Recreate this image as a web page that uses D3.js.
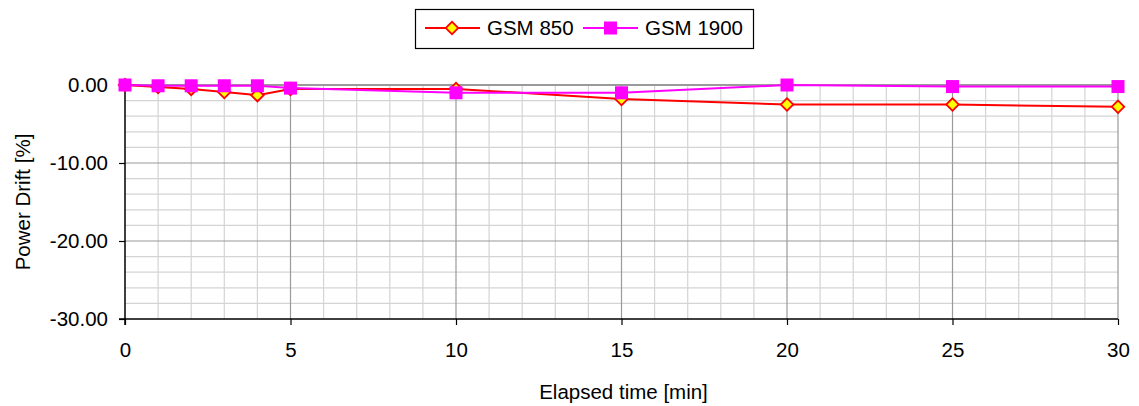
<!DOCTYPE html>
<html><head><meta charset="utf-8">
<script src="https://cdn.jsdelivr.net/npm/d3@7"></script>
<style>body{margin:0;background:#fff;} svg{display:block;font-family:"Liberation Sans",Arial,sans-serif;}</style>
</head><body>
<svg id="c" width="1139" height="406"></svg>
<script>
const times = [0, 1, 2, 3, 4, 5, 10, 15, 20, 25, 30];
const gsm850 = [0, -0.25, -0.5, -0.9, -1.3, -0.5, -0.5, -1.8, -2.5, -2.5, -2.8];
const gsm1900 = [0, -0.1, -0.1, -0.1, -0.1, -0.4, -1.0, -1.0, 0.0, -0.2, -0.2];
const xTicks = [0, 5, 10, 15, 20, 25, 30];
const yTicks = [0, -10, -20, -30];
const seriesNames = ["GSM 850", "GSM 1900"];

const FS = "20.5px";
const svg = d3.select("#c");
const x = d3.scaleLinear().domain([0, 30]).range([125, 1118]);
const y = d3.scaleLinear().domain([-30, 0]).range([319, 85]);

// minor grid
const minorX = d3.range(0, 31, 1).filter(v => v % 5 !== 0);
const minorY = d3.range(-30, 0.1, 2).filter(v => v % 10 !== 0);
const g = svg.append("g");
g.selectAll(".mx").data(minorX).enter().append("line")
  .attr("x1", d => x(d)).attr("x2", d => x(d)).attr("y1", y(0)).attr("y2", y(-30))
  .attr("stroke", "#d4d4d4").attr("stroke-width", 1.2);
g.selectAll(".my").data(minorY).enter().append("line")
  .attr("x1", x(0)).attr("x2", x(30)).attr("y1", d => y(d)).attr("y2", d => y(d))
  .attr("stroke", "#d4d4d4").attr("stroke-width", 1.2);
// major grid
g.selectAll(".Mx").data(xTicks.filter(v => v !== 0)).enter().append("line")
  .attr("x1", d => x(d)).attr("x2", d => x(d)).attr("y1", y(0)).attr("y2", y(-30))
  .attr("stroke", "#9a9a9a").attr("stroke-width", 1.2);
g.selectAll(".My").data(yTicks.filter(v => v !== -30)).enter().append("line")
  .attr("x1", x(0)).attr("x2", x(30)).attr("y1", d => y(d)).attr("y2", d => y(d))
  .attr("stroke", "#9a9a9a").attr("stroke-width", d => d === 0 ? 2 : 1.2);

// axes
const fmtY = v => d3.format(".2f")(v).replace("\u2212", "-");
const xAxis = d3.axisBottom(x).tickValues(xTicks).tickSize(6).tickPadding(17).tickFormat(d3.format("d"));
const yAxis = d3.axisLeft(y).tickValues(yTicks).tickSize(6).tickPadding(11).tickFormat(fmtY);
const xa = svg.append("g").attr("transform", `translate(0,${y(-30)})`).call(xAxis);
const ya = svg.append("g").attr("transform", `translate(${x(0)},0)`).call(yAxis);
[xa, ya].forEach(a => {
  a.select(".domain").attr("stroke", "#000").attr("stroke-width", 1.5);
  a.selectAll(".tick line").attr("stroke", "#000").attr("stroke-width", 1.2);
  a.selectAll(".tick text").attr("fill", "#000").style("font-size", FS).style("font-family", "Liberation Sans, Arial, sans-serif");
});
ya.select(".domain").attr("d", `M-6,${y(-30)}H0V${y(0)}`);
xa.select(".domain").attr("d", `M${x(0)},6V0H${x(30)}`);

// axis titles
svg.append("text").attr("x", (x(0) + x(30)) / 2 + 2).attr("y", 399).attr("text-anchor", "middle")
  .style("font-size", FS).text("Elapsed time [min]");
svg.append("text").attr("transform", `translate(30,${(y(0) + y(-30)) / 2}) rotate(-90)`)
  .attr("text-anchor", "middle").style("font-size", FS).text("Power Drift [%]");

// series
const line = d3.line().x(d => x(d[0])).y(d => y(d[1]));
const d850 = times.map((t, i) => [t, gsm850[i]]);
const d1900 = times.map((t, i) => [t, gsm1900[i]]);
const dia = d3.symbol().type(d3.symbolSquare).size(78);
svg.append("path").datum(d850).attr("d", line).attr("fill", "none").attr("stroke", "#ff0000").attr("stroke-width", 2);
svg.selectAll(".p850").data(d850).enter().append("path")
  .attr("d", dia)
  .attr("transform", d => `translate(${x(d[0])},${y(d[1])}) rotate(45)`)
  .attr("fill", "#ffff00").attr("stroke", "#ff0000").attr("stroke-width", 1.8);
svg.append("path").datum(d1900).attr("d", line).attr("fill", "none").attr("stroke", "#ff00ff").attr("stroke-width", 2);
svg.selectAll(".p1900").data(d1900).enter().append("rect")
  .attr("x", d => x(d[0]) - 6.5).attr("y", d => y(d[1]) - 6.5).attr("width", 13).attr("height", 13)
  .attr("fill", "#ff00ff");

// legend
const lg = svg.append("g");
lg.append("rect").attr("x", 415.5).attr("y", 9.5).attr("width", 338).attr("height", 39)
  .attr("fill", "#fff").attr("stroke", "#000").attr("stroke-width", 1.2);
const ly = 28;
lg.append("line").attr("x1", 425).attr("x2", 480).attr("y1", ly).attr("y2", ly).attr("stroke", "#ff0000").attr("stroke-width", 2);
lg.append("path").attr("d", dia)
  .attr("transform", `translate(452,${ly}) rotate(45)`).attr("fill", "#ffff00").attr("stroke", "#ff0000").attr("stroke-width", 1.8);
lg.append("text").attr("x", 487).attr("y", ly + 7).style("font-size", FS).text(seriesNames[0]);
lg.append("line").attr("x1", 583).attr("x2", 638).attr("y1", ly).attr("y2", ly).attr("stroke", "#ff00ff").attr("stroke-width", 2);
lg.append("rect").attr("x", 604).attr("y", ly - 6.5).attr("width", 13).attr("height", 13).attr("fill", "#ff00ff");
lg.append("text").attr("x", 645).attr("y", ly + 7).style("font-size", FS).text(seriesNames[1]);
</script>
</body></html>
